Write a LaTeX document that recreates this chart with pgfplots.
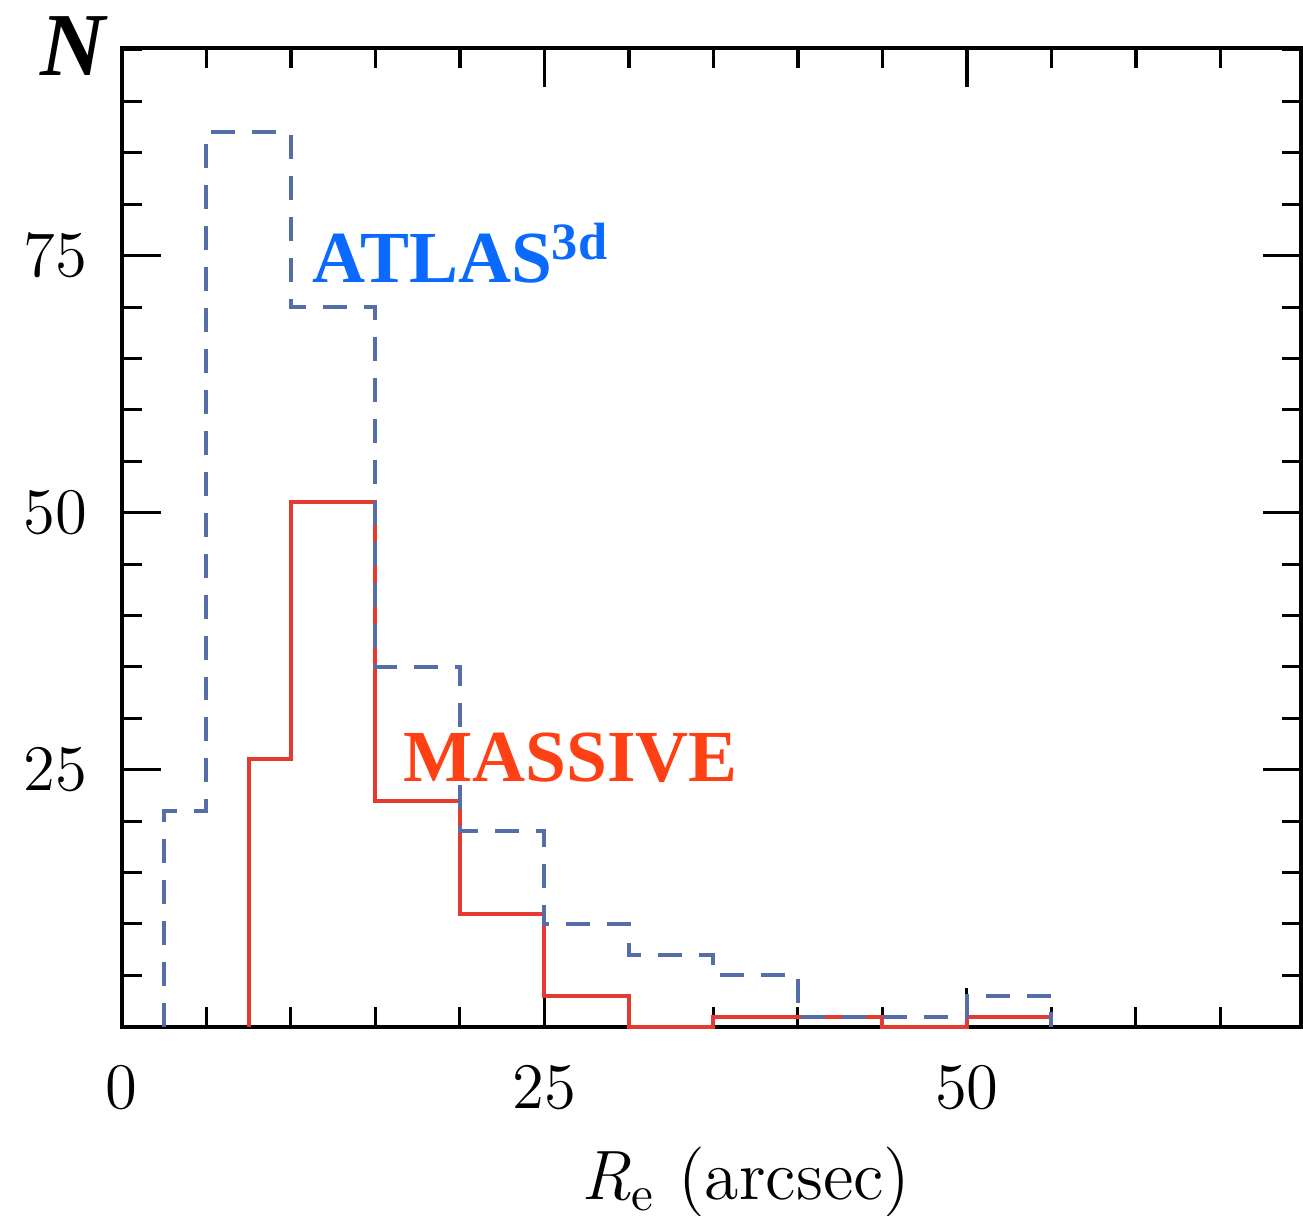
\documentclass[border=0pt]{standalone}
\usepackage{fontspec}
\usepackage{pgfplots}
\pgfplotsset{compat=1.18}
\newfontfamily\timesfont{Liberation Serif}
\definecolor{atlasblue}{RGB}{85,110,170}
\definecolor{atlastext}{RGB}{10,105,255}
\definecolor{massred}{RGB}{228,58,48}
\definecolor{masstext}{RGB}{255,64,20}
\begin{document}
\begin{tikzpicture}
\begin{axis}[
  at={(0,0)}, anchor=south west,
  scale only axis, width=236.2pt, height=196pt,
  xmin=0, xmax=69.8, ymin=0, ymax=95.2,
  xtick={0,25,50}, ytick={25,50,75},
  minor xtick={5,10,15,20,30,35,40,45,55,60,65},
  minor ytick={5,10,15,20,30,35,40,45,55,60,65,70,80,85,90,95},
  xtick pos=both, ytick pos=both, tick align=inside,
  xticklabel pos=lower, yticklabel pos=left,
  major tick length=7.8pt, minor tick length=4pt,
  tick style={black, line width=0.6pt},
  axis line style={line width=0.8pt},
  tick label style={font=\fontsize{13}{15}\selectfont},
  /pgf/number format/assume math mode=true,
  yticklabel style={inner sep=0pt, xshift=-6.8pt},
  xticklabel style={inner sep=0pt, yshift=-7.6pt},
  xlabel={\textit{R}\textsubscript{e} (arcsec)},
  xlabel style={at={(axis description cs:0.529,0)}, anchor=base, yshift=-34.6pt, inner sep=0pt, font=\fontsize{14}{16}\selectfont},
  clip=false,
]
% MASSIVE
\addplot[const plot, massred, line width=0.8pt] coordinates {
  (7.5,0) (7.5,26) (10,51) (15,22) (20,11) (25,3) (30,0) (35,1) (40,1) (45,0) (50,1) (55,0)
};
% ATLAS3d
\addplot[const plot, atlasblue, line width=0.8pt, dash pattern=on 4.8pt off 3.4pt] coordinates {
  (2.5,0) (2.5,21) (5,87) (10,70) (15,35) (20,19) (25,10) (30,7) (35,5) (40,1) (45,1) (50,3) (55,0)
};
\node[anchor=base, inner sep=0pt, xshift=-9.8pt, yshift=-5.6pt, font=\timesfont\bfseries\itshape\fontsize{18}{20}\selectfont] at (rel axis cs:0,1) {N};
\node[anchor=base west, inner sep=0pt, text=atlastext, font=\timesfont\bfseries\fontsize{14.7}{16}\selectfont] at (axis cs:11.23,72.4) {ATLAS\raisebox{4.5pt}{\fontsize{10.5}{12}\selectfont 3d}};
\node[anchor=base west, inner sep=0pt, text=masstext, font=\timesfont\bfseries\fontsize{14.7}{16}\selectfont] at (axis cs:16.6,23.9) {MASSIVE};
\end{axis}
% overlay axis carrying the upper x ticks
\begin{axis}[
  at={(0,0)}, anchor=south west,
  scale only axis, width=236.2pt, height=196pt,
  xmin=0, xmax=69.8, ymin=0, ymax=95.2,
  axis x line*=top, axis y line=none,
  xtick={25,50}, xticklabels={},
  minor xtick={5,10,15,20,30,35,40,45,55,60,65},
  tick align=inside,
  major tick length=7.8pt, minor tick length=4pt,
  tick style={black, line width=0.7pt},
  axis line style={line width=0.8pt, -},
]
\end{axis}
\pgfresetboundingbox
\path[use as bounding box] (-24.4pt,-37.8pt) rectangle (236.5pt,205.6pt);
\end{tikzpicture}
\end{document}
